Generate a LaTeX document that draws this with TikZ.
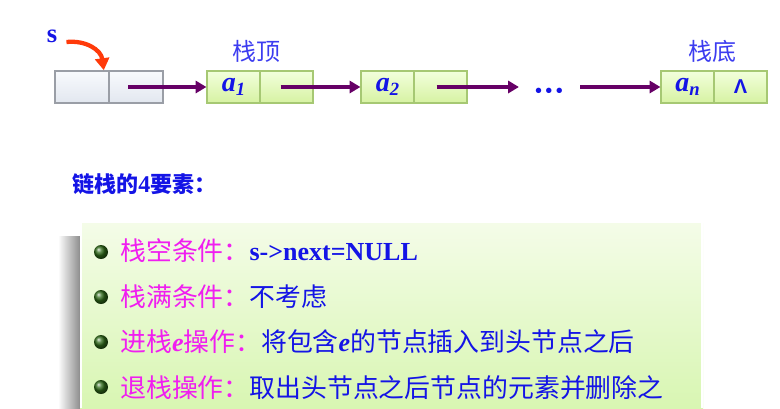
\documentclass[tikz,border=0pt]{standalone}
\usepackage{fontspec}
\setmainfont{Liberation Serif}
\newfontfamily\cjk{Noto Sans CJK SC}
\newfontfamily\lsans{Liberation Sans}
\usetikzlibrary{arrows.meta,calc,shadows}
\definecolor{arrowpurple}{HTML}{660066}
\definecolor{txtblue}{HTML}{1414E6}
\definecolor{lblblue}{HTML}{3C3CF0}
\definecolor{mag}{HTML}{F01EF0}
\definecolor{redarrow}{HTML}{FF3A0A}
\definecolor{cellgreenT}{HTML}{F2FFDC}
\definecolor{cellgreenB}{HTML}{D6F2A2}
\definecolor{cellgreenD}{HTML}{A6C873}
\definecolor{headT}{HTML}{F8FAFD}
\definecolor{headB}{HTML}{E2E7EF}
\definecolor{headD}{HTML}{9A9EA6}
\definecolor{boxT}{HTML}{F4FCE8}
\definecolor{boxB}{HTML}{D8F6B2}
\definecolor{bulletgreen}{HTML}{2F6A18}
\begin{document}
\begin{tikzpicture}[x=0.75pt,y=-0.75pt,
  headcell/.style={rectangle, draw=headD, line width=1.2pt, top color=headT, bottom color=headB, minimum width=40.5pt, minimum height=24pt, inner sep=0pt},
  datacell/.style={rectangle, draw=cellgreenD, line width=0.9pt, top color=cellgreenT, bottom color=cellgreenB, minimum width=39.75pt, minimum height=24pt, inner sep=0pt, drop shadow={opacity=0.25, shadow xshift=0.6pt, shadow yshift=-0.9pt}},
  link/.style={draw=arrowpurple, line width=3pt, -{Triangle[length=8pt,width=9pt]}},
  elem/.style={font=\fontsize{21}{21}\selectfont\bfseries\itshape, text=txtblue},
  lbl/.style={font=\cjk\fontsize{18}{18}\selectfont, text=lblblue},
  row/.style={anchor=base west, inner sep=0pt, font=\cjk\fontsize{19.4}{19.4}\selectfont, text=txtblue},
  bulletball/.style={circle, inner sep=0pt, minimum size=10.5pt, ball color=bulletgreen}
]
\useasboundingbox (0,0) rectangle (780,408);

% ---- linked list ----
\node[headcell] (h1) at (82,87) {};
\node[headcell] (h2) at (136,87) {};
\node[datacell, elem] (a1) at (233.5,87) {a\raisebox{-0.35ex}{\fontsize{14}{14}\selectfont 1}};
\node[datacell] (a1n) at (286.5,87) {};
\node[datacell, elem] (a2) at (387.5,87) {a\raisebox{-0.35ex}{\fontsize{14}{14}\selectfont 2}};
\node[datacell] (a2n) at (440.5,87) {};
\node[datacell, elem] (an) at (687.5,87) {a\raisebox{-0.35ex}{\fontsize{14}{14}\selectfont n}};
\node[datacell, font=\lsans\bfseries\fontsize{15}{15}\selectfont, text=txtblue] (ann) at (740.5,87) {Λ};
\node[inner sep=0pt, text=txtblue, font=\bfseries\fontsize{15}{15}\selectfont] (dots) at (549,93) {\textbullet\,\textbullet\,\textbullet};
\coordinate (dotsin) at ($(dots.west)+(-16,0)$);
\coordinate (dotsout) at ($(dots.east)+(17,0)$);

\node[lbl] (top) at (256,51) {栈顶};
\node[lbl] (bot) at (712,51) {栈底};
\node[text=txtblue, font=\bfseries\fontsize{20}{20}\selectfont, inner sep=0pt] (s) at (52,36) {s};

\draw[link] ($(h2.center)+(-8,0)$) -- (a1.west);
\draw[link] ($(a1n.center)+(-6,0)$) -- (a2.west);
\draw[link] ($(a2n.center)+(-4,0)$) -- (dotsin |- a2n.center);
\draw[link] (dotsout |- an.center) -- (an.west);
\draw[redarrow, line width=3.2pt, -{Triangle[length=9pt,width=10.5pt]}]
  ($(s.east)+(9,6)$) .. controls (86,40) and (101,50) .. ($(h1.north east)+(-6,0)$);

% ---- title ----
\node[anchor=base west, inner sep=0pt, font=\cjk\bfseries\fontsize{16.5}{16.5}\selectfont, text=txtblue] (title) at (72,192) {链栈的{\rmfamily\fontsize{18}{18}\selectfont 4}要素：};

% ---- green panel ----
\shade[left color=white, right color=black!45] (58,236) rectangle (80,408);
\shade[top color=boxT, bottom color=boxB] (80,223) rectangle (703,408);
\draw[white, line width=1.2pt] (81,223) -- (81,408);
\draw[white, line width=1.2pt] (702,223) -- (702,408);

\node[bulletball] (b1) at (101,252) {};
\node[bulletball] (b2) at (101,297) {};
\node[bulletball] (b3) at (101,342) {};
\node[bulletball] (b4) at (101,387) {};

\node[row] (r1) at (120,260) {{\color{mag}栈空条件：}{\rmfamily\bfseries\fontsize{19.5}{19.5}\selectfont s->next=NULL}};
\node[row] (r2) at (120,306) {{\color{mag}栈满条件：}不考虑};
\node[row] (r3) at (120,351) {{\color{mag}进栈{\rmfamily\bfseries\itshape\fontsize{19.5}{19.5}\selectfont e}操作：}将包含{\rmfamily\bfseries\itshape\fontsize{19.5}{19.5}\selectfont e}的节点插入到头节点之后};
\node[row] (r4) at (120,397) {{\color{mag}退栈操作：}取出头节点之后节点的元素并删除之};
\end{tikzpicture}
\end{document}
